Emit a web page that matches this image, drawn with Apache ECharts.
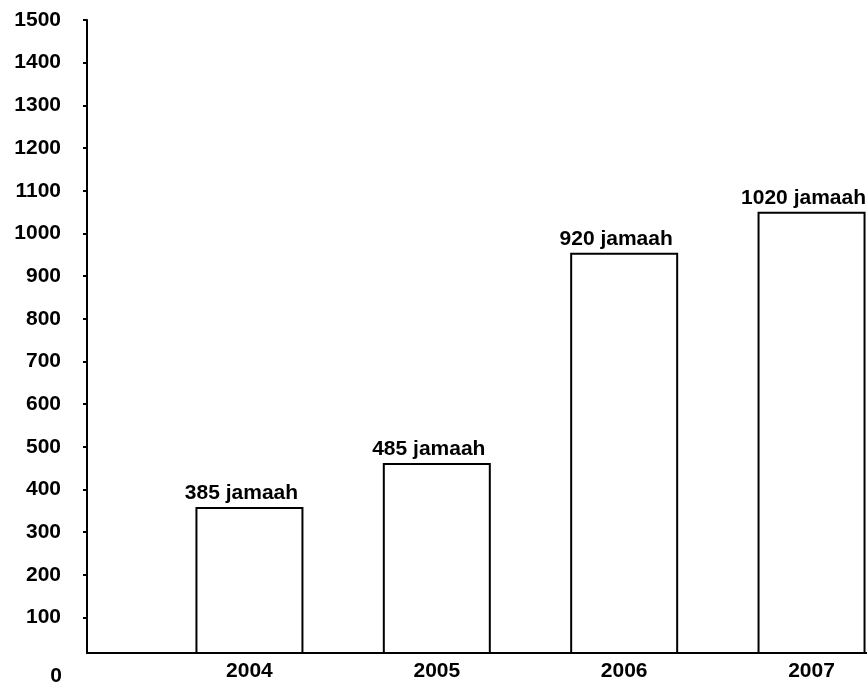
<!DOCTYPE html>
<html>
<head>
<meta charset="utf-8">
<script src="https://cdn.jsdelivr.net/npm/echarts@6/dist/echarts.min.js"></script>
<style>html,body{margin:0;padding:0;background:#fff}#c{width:867px;height:688px}</style>
</head>
<body>
<div id="c"></div>
<script>
var years = [2004, 2005, 2006, 2007];
var values = [359, 462, 955, 1051];
var barLabels = ['385 jamaah', '485 jamaah', '920 jamaah', '1020 jamaah'];
var yTicks = [100, 200, 300, 400, 500, 600, 700, 800, 900, 1000, 1100, 1200, 1300, 1400, 1500];
var zeroLabel = '0';

var FONT = 'Liberation Sans, Arial, sans-serif';
var chart = echarts.init(document.getElementById('c'));
chart.setOption({
  animation: false,
  backgroundColor: '#fff',
  grid: { left: 87, right: 0, top: 20, bottom: 35 },
  xAxis: {
    type: 'value',
    min: 2003.133,
    max: 2007.296,
    splitLine: { show: false },
    axisLine: { show: true, onZero: false, lineStyle: { color: '#000', width: 2 } },
    axisTick: { show: false },
    axisLabel: {
      customValues: years,
      formatter: function (v) { return String(v); },
      color: '#000', fontFamily: FONT, fontSize: 21, fontWeight: 'bold', margin: 8
    }
  },
  yAxis: {
    type: 'value',
    min: 17,
    max: 1500,
    splitLine: { show: false },
    axisLine: { show: true, lineStyle: { color: '#000', width: 2 } },
    axisTick: { show: true, customValues: yTicks, length: 4, lineStyle: { color: '#000', width: 2 } },
    axisLabel: {
      customValues: yTicks,
      formatter: function (v) { return String(v); },
      color: '#000', fontFamily: FONT, fontSize: 21, fontWeight: 'bold', margin: 26
    }
  },
  graphic: [{
    type: 'text',
    right: 867 - 62,
    top: 666,
    style: { text: zeroLabel, fill: '#000', font: 'bold 21px ' + FONT }
  }],
  series: [{
    type: 'bar',
    barWidth: 108,
    data: years.map(function (y, i) { return [y, values[i]]; }),
    itemStyle: { color: '#fff', borderColor: '#000', borderWidth: 2 },
    label: {
      show: true,
      position: 'top',
      distance: 3,
      offset: [-8, 0],
      color: '#000',
      fontFamily: FONT,
      fontSize: 21,
      fontWeight: 'bold',
      formatter: function (p) { return barLabels[p.dataIndex]; }
    }
  }]
});
</script>
</body>
</html>
